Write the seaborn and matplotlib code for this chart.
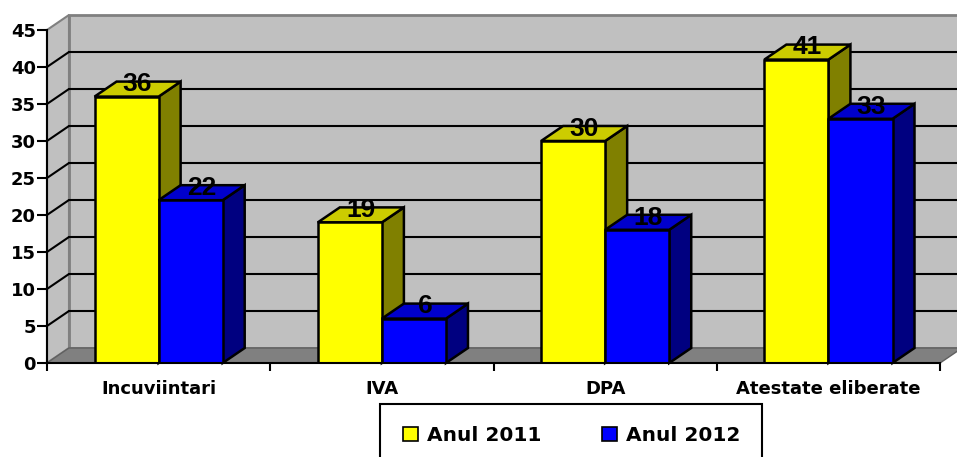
import matplotlib
matplotlib.use('Agg')
import matplotlib.pyplot as plt
from matplotlib.patches import Polygon, Rectangle
import seaborn as sns
import pandas as pd
import numpy as np

categorii = ['Incuviintari', 'IVA', 'DPA', 'Atestate eliberate']
ani = ['Anul 2011', 'Anul 2012']
valori_2011 = [36, 19, 30, 41]
valori_2012 = [22, 6, 18, 33]

culori_fata = ['#FFFF00', '#0000FF']
culori_sus = ['#CCCC00', '#0000CC']
culori_lateral = ['#808000', '#000080']

df = pd.DataFrame({
    'categorie': categorii * 2,
    'an': [ani[0]] * 4 + [ani[1]] * 4,
    'valoare': valori_2011 + valori_2012,
})

sns.set_style('white')
plt.rcParams['font.family'] = ['DejaVu Sans']
plt.rcParams['font.weight'] = 'bold'
plt.rcParams['text.color'] = 'black'
plt.rcParams['xtick.color'] = 'black'
plt.rcParams['ytick.color'] = 'black'
plt.rcParams['xtick.labelcolor'] = 'black'
plt.rcParams['ytick.labelcolor'] = 'black'

fig = plt.figure(figsize=(9.57, 4.57), dpi=100)
ax = fig.add_axes([0.0491, 0.2057, 0.9332, 0.7287])
ax.set_facecolor('none')

sns.barplot(data=df, x='categorie', y='valoare', hue='an', palette=culori_fata,
            width=0.574, gap=0, edgecolor='black', linewidth=1.8, ax=ax,
            saturation=1)

ax.set_xlim(-0.5, 3.5)
ax.set_ylim(0, 45)

# adancimea 3D in unitati de date
px_x = fig.get_figwidth() * fig.dpi * 0.9332 / 4
px_y = fig.get_figheight() * fig.dpi * 0.7287 / 45
dx = 22 / px_x
dy = 15 / px_y

# perete din spate
ax.add_patch(Rectangle((-0.5 + dx, dy), 4, 45, facecolor='#C0C0C0',
                       edgecolor='#808080', linewidth=2, zorder=0, clip_on=False))
# perete lateral
ax.add_patch(Polygon([(-0.5, 0), (-0.5 + dx, dy), (-0.5 + dx, 45 + dy), (-0.5, 45)],
                     closed=True, facecolor='#C0C0C0', edgecolor='#808080',
                     linewidth=1.5, zorder=0, clip_on=False))
# podea
ax.add_patch(Polygon([(-0.5, 0), (3.5, 0), (3.5 + dx, dy), (-0.5 + dx, dy)],
                     closed=True, facecolor='#808080', edgecolor='#606060',
                     linewidth=1, zorder=0.5, clip_on=False))
for v in range(5, 45, 5):
    ax.plot([-0.5 + dx, 3.5 + dx], [v + dy, v + dy], color='black', lw=1.5,
            zorder=0.3, clip_on=False)
    ax.plot([-0.5, -0.5 + dx], [v, v + dy], color='black', lw=1.5,
            zorder=0.3, clip_on=False)

bare = [p for p in ax.patches if isinstance(p, Rectangle) and p.get_height() > 0
        and p.get_width() < 1]
bare = sorted(bare, key=lambda p: p.get_x())
z = 2
for b in bare:
    x0, w, h = b.get_x(), b.get_width(), b.get_height()
    idx = 0 if tuple(np.round(b.get_facecolor()[:3], 2)) == (1.0, 1.0, 0.0) else 1
    ax.add_patch(Polygon([(x0 + w, 0), (x0 + w + dx, dy), (x0 + w + dx, h + dy), (x0 + w, h)],
                         closed=True, facecolor=culori_lateral[idx], edgecolor='black',
                         linewidth=1.8, zorder=z, clip_on=False))
    ax.add_patch(Polygon([(x0, h), (x0 + w, h), (x0 + w + dx, h + dy), (x0 + dx, h + dy)],
                         closed=True, facecolor=culori_sus[idx], edgecolor='black',
                         linewidth=1.8, zorder=z, clip_on=False))
    b.set_zorder(z + 0.5)
    ax.text(x0 + w / 2 + dx / 2, h + dy / 2 - 0.3, f'{int(h)}', ha='center', va='baseline',
            fontsize=19, fontweight='bold', color='black', zorder=10,
            family='Liberation Sans')
    z += 1

for s in ['top', 'right']:
    ax.spines[s].set_visible(False)
for s in ['left', 'bottom']:
    ax.spines[s].set_color('black')
    ax.spines[s].set_linewidth(1.5)
    ax.spines[s].set_zorder(20)

ax.set_yticks(range(0, 46, 5))
ax.tick_params(axis='y', direction='out', length=7, width=1.5, color='black',
               labelsize=13, pad=1, left=True, labelcolor='black')
ax.set_xticks(range(4))
ax.set_xticks([-0.5, 0.5, 1.5, 2.5, 3.5], minor=True)
ax.tick_params(axis='x', which='major', length=0, labelsize=13, pad=12,
               labelcolor='black')
ax.tick_params(axis='x', which='minor', direction='out', length=6, width=1.5,
               color='black', bottom=True)
for t in ax.get_xticklabels() + ax.get_yticklabels():
    t.set_fontweight('bold')
ax.set_xlabel('')
ax.set_ylabel('')

leg = ax.legend(loc='upper center', bbox_to_anchor=(0.597, 0.116),
                bbox_transform=fig.transFigure, ncol=2, frameon=True,
                fancybox=False, edgecolor='black', framealpha=1,
                prop={'weight': 'bold', 'size': 14.5}, handlelength=0.75,
                handleheight=0.75, handletextpad=0.45, columnspacing=3.0,
                borderpad=1.1, borderaxespad=0)
leg.get_frame().set_linewidth(1.5)
for t in leg.get_texts():
    t.set_color('black')
for hnd in leg.legend_handles:
    hnd.set_edgecolor('black')
    hnd.set_linewidth(1.2)

fig.savefig('out.png', dpi=100)
